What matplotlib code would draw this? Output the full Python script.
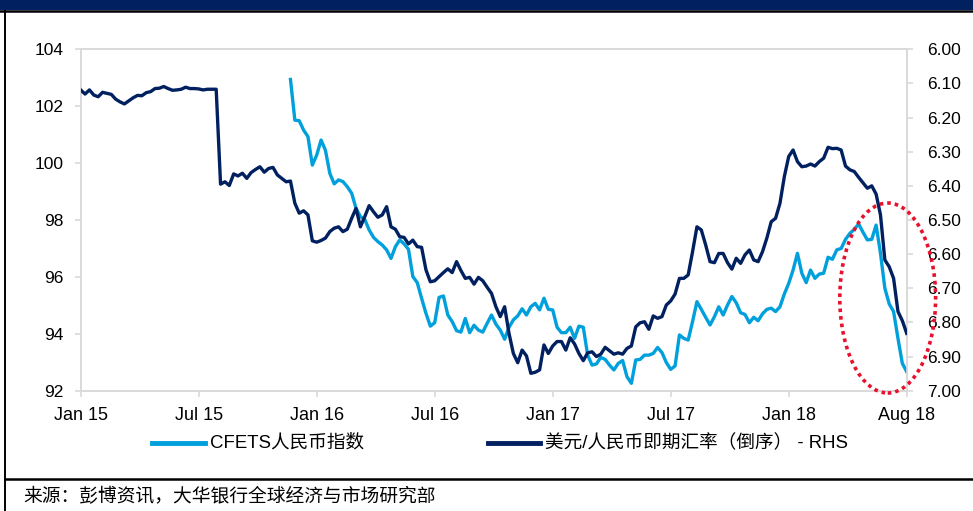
import matplotlib
matplotlib.use("Agg")
import matplotlib.pyplot as plt
import numpy as np
import pandas as pd
from matplotlib.patches import Ellipse, Rectangle
from matplotlib.lines import Line2D

plt.rcParams['font.family'] = ['Liberation Sans', 'Noto Sans CJK SC', 'DejaVu Sans']

# ---------------- data (weekly) ----------------
dates = pd.date_range('2015-01-02', periods=190, freq='7D')
tick_labels = ['Jan 15', 'Jul 15', 'Jan 16', 'Jul 16', 'Jan 17', 'Jul 17', 'Jan 18', 'Aug 18']

# USD/CNY spot (right axis, inverted)
usdcny = [
    6.119, 6.131, 6.119, 6.134, 6.139, 6.126, 6.129, 6.132, 6.146, 6.154,
    6.160, 6.151, 6.142, 6.135, 6.136, 6.127, 6.124, 6.115, 6.114, 6.109,
    6.115, 6.120, 6.119, 6.117, 6.111, 6.115, 6.115, 6.116, 6.119, 6.117,
    6.117, 6.117, 6.395, 6.388, 6.399, 6.365, 6.371, 6.363, 6.378, 6.361,
    6.352, 6.344, 6.360, 6.349, 6.346, 6.368, 6.378, 6.388, 6.386, 6.451,
    6.480, 6.473, 6.485, 6.561, 6.565, 6.560, 6.553, 6.534, 6.524, 6.520,
    6.534, 6.527, 6.495, 6.466, 6.520, 6.490, 6.458, 6.476, 6.492, 6.485,
    6.461, 6.520, 6.527, 6.549, 6.551, 6.570, 6.559, 6.578, 6.580, 6.646,
    6.681, 6.678, 6.666, 6.654, 6.643, 6.654, 6.622, 6.648, 6.671, 6.668,
    6.688, 6.668, 6.678, 6.697, 6.715, 6.754, 6.783, 6.754, 6.832, 6.891,
    6.918, 6.881, 6.898, 6.949, 6.946, 6.939, 6.866, 6.891, 6.869, 6.856,
    6.856, 6.881, 6.845, 6.863, 6.891, 6.912, 6.889, 6.886, 6.900, 6.893,
    6.873, 6.883, 6.893, 6.889, 6.893, 6.876, 6.869, 6.813, 6.801, 6.798,
    6.820, 6.781, 6.788, 6.783, 6.749, 6.737, 6.717, 6.671, 6.671, 6.661,
    6.593, 6.520, 6.529, 6.573, 6.622, 6.625, 6.598, 6.598, 6.625, 6.644,
    6.612, 6.627, 6.602, 6.588, 6.617, 6.622, 6.593, 6.553, 6.505, 6.495,
    6.451, 6.373, 6.314, 6.295, 6.329, 6.344, 6.342, 6.336, 6.342, 6.329,
    6.319, 6.287, 6.291, 6.290, 6.295, 6.342, 6.353, 6.358, 6.375, 6.391,
    6.407, 6.400, 6.424, 6.485, 6.617, 6.637, 6.671, 6.768, 6.795, 6.832,
]

# CFETS RMB index (left axis), starts at week 48
cfets_start = 48
cfets = [
    102.94, 101.51, 101.49, 101.16, 100.93, 99.93, 100.28, 100.81, 100.45, 99.64,
    99.27, 99.41, 99.35, 99.17, 98.94, 98.41, 98.12, 98.02, 97.65, 97.39,
    97.24, 97.12, 96.95, 96.65, 97.06, 97.30, 97.16, 96.97, 96.01, 95.80,
    95.25, 94.72, 94.27, 94.39, 95.28, 95.33, 94.66, 94.43, 94.11, 94.06,
    94.54, 94.04, 94.30, 94.13, 94.06, 94.37, 94.66, 94.34, 94.13, 93.81,
    94.23, 94.49, 94.63, 94.88, 94.66, 94.95, 95.07, 94.84, 95.25, 94.86,
    94.84, 94.23, 94.04, 94.04, 94.23, 93.84, 94.27, 94.23, 93.25, 92.90,
    92.94, 93.17, 93.10, 92.90, 92.73, 92.96, 93.06, 92.49, 92.26, 93.08,
    93.10, 93.25, 93.25, 93.31, 93.52, 93.34, 92.99, 92.75, 92.87, 93.96,
    93.84, 93.78, 94.43, 95.13, 94.86, 94.58, 94.31, 94.60, 94.95, 94.66,
    95.01, 95.31, 95.09, 94.74, 94.68, 94.39, 94.58, 94.46, 94.70, 94.86,
    94.90, 94.78, 94.95, 95.40, 95.77, 96.24, 96.83, 96.13, 95.80, 96.24,
    95.95, 96.10, 96.13, 96.69, 96.62, 96.95, 97.00, 97.32, 97.53, 97.67,
    97.86, 97.57, 97.30, 97.32, 97.82, 96.83, 95.60, 95.05, 94.78, 93.84,
    92.96, 92.67,
]

label_cfets = 'CFETS人民币指数'
label_usd = '美元/人民币即期汇率（倒序） - RHS'
source = '来源：彭博资讯，大华银行全球经济与市场研究部'

# ---------------- figure ----------------
W, H = 973, 511
fig = plt.figure(figsize=(W / 100, H / 100), dpi=100)
fig.patch.set_facecolor('white')

navy = '#002060'
lblue = '#00A0DC'
grey = '#D9D9D9'

def fx(px):
    return px / W

def fy(py):
    return 1 - py / H

ax = fig.add_axes([fx(80.7), fy(390.7), fx(906.7) - fx(80.7), fy(49.3) - fy(390.7)])
ax2 = ax.twinx()

ax.plot(dates[cfets_start:cfets_start + len(cfets)], cfets, color=lblue, lw=2.4,
        solid_joinstyle='round', zorder=3)
ax2.plot(dates[:len(usdcny)], usdcny, color=navy, lw=2.4, solid_joinstyle='round', zorder=3)

ax.set_xlim(dates[0], dates[-1])
ax.set_ylim(92, 104)
ax2.set_ylim(7.0, 6.0)

ax.set_yticks(np.arange(92, 105, 2))
ax.set_yticklabels([f'{v:d}' for v in range(92, 105, 2)])
r_ticks = np.round(np.arange(6.0, 7.001, 0.1), 2)
ax2.set_yticks(r_ticks)
ax2.set_yticklabels([f'{v:.2f}' for v in r_ticks])

tick_pos = [dates[i] for i in range(0, 190, 27)]
ax.set_xticks(tick_pos)
ax.set_xticklabels(tick_labels)

for a in (ax, ax2):
    for s in a.spines.values():
        s.set_color(grey)
        s.set_linewidth(1.2)
    a.tick_params(colors=grey, labelcolor='black', length=4.5, width=1.2, direction='out')
ax.tick_params(axis='y', labelsize=12.5, pad=8)
ax2.tick_params(axis='y', labelsize=12.5, pad=10)
ax.tick_params(axis='x', labelsize=13, pad=7)

# red dotted ellipse annotation
ell = Ellipse((0.977, 0.2715), 0.116, 0.5565, transform=ax.transAxes, fill=False,
              edgecolor='#E8112D', lw=2.6, linestyle=(0, (1, 1.1)), clip_on=False, zorder=5)
ax2.add_patch(ell)

# legend (manual)
fig.add_artist(Line2D([fx(152), fx(205)], [fy(443), fy(443)], color=lblue, lw=3.5,
                      transform=fig.transFigure))
fig.text(fx(210), fy(443), label_cfets, fontsize=13.4, va='center', ha='left')
fig.add_artist(Line2D([fx(488), fx(540)], [fy(443), fy(443)], color=navy, lw=3.5,
                      transform=fig.transFigure))
fig.text(fx(545), fy(443), label_usd, fontsize=13.4, va='center', ha='left')

# frame: top band, borders, separator
fig.add_artist(Rectangle((0, fy(10.5)), 1, 1 - fy(10.5), transform=fig.transFigure,
                         facecolor=navy, edgecolor='none'))
fig.add_artist(Line2D([0, 1], [fy(11.5), fy(11.5)], color='black', lw=1.8,
                      transform=fig.transFigure))
fig.add_artist(Line2D([fx(4.5), fx(4.5)], [0, fy(11.5)], color='black', lw=1.4,
                      transform=fig.transFigure))
fig.add_artist(Line2D([fx(4.5), 1], [fy(479), fy(479)], color='black', lw=1.8,
                      transform=fig.transFigure))
fig.text(fx(23), fy(497), source, fontsize=13.5, va='center', ha='left')

fig.savefig('out.png', dpi=100)
